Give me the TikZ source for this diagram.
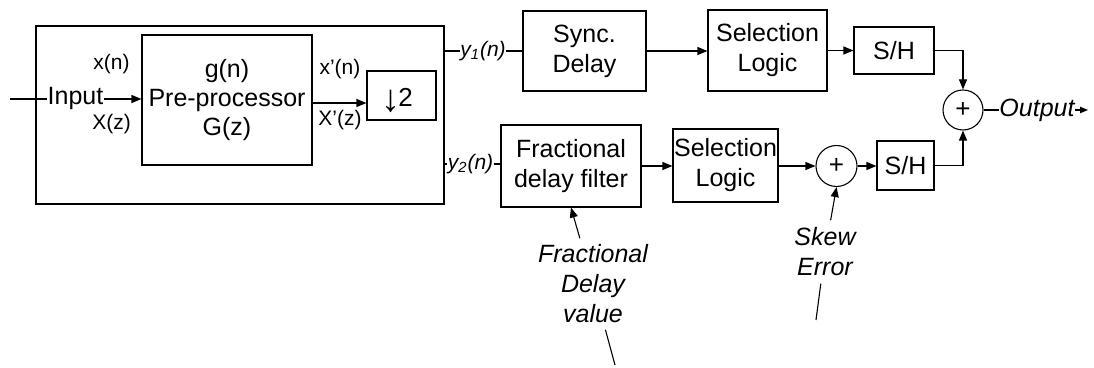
\documentclass[tikz,border=0pt]{standalone}
\usepackage{fontspec}
\setmainfont{Liberation Sans}
\usetikzlibrary{arrows.meta}

\begin{document}
\begin{tikzpicture}[x=0.5pt,y=-0.5pt,line width=0.55pt,
  block/.style={draw,rectangle,inner sep=0pt,align=center,
    font=\fontsize{12.5}{15}\selectfont},
  sumnode/.style={draw,circle,inner sep=0pt,minimum size=20pt,
    font=\fontsize{13}{14}\selectfont},
  lbl/.style={inner sep=0pt,font=\fontsize{10.5}{12}\selectfont},
  sig/.style={inner sep=0pt,font=\itshape\fontsize{10.5}{12}\selectfont},
  note/.style={inner sep=3pt,align=center,font=\itshape\fontsize{12.5}{15}\selectfont},
  arr/.style={-{Triangle[length=5pt,width=4pt]}},
  smallarr/.style={-{Triangle[length=4pt,width=3.2pt]}},
]
\useasboundingbox (0,0) rectangle (1094,368);

% pre-processing stage
\node[block,minimum width=204pt,minimum height=89pt] (outer) at (240,115) {};
\node[block,minimum width=85pt,minimum height=65pt,
  font=\fontsize{12.5}{14.4}\selectfont] (pre) at (227,100) {g(n)\\Pre-processor\\G(z)};
\node[block,minimum width=34.5pt,minimum height=24.5pt] (ds) at (401.5,95.5) {};
\node[lbl,font=\fontsize{13}{15}\selectfont] (dstext) at (397,100)
  {\raisebox{-2.5pt}{\fontsize{19}{19}\selectfont ↓}\kern-1pt 2};

\coordinate (src) at (10,99);
\node[inner sep=0pt,font=\fontsize{12.5}{15}\selectfont] (in) at (75.5,99) {Input};
\draw (src) -- (in.west);
\draw[arr] (in.east) -- (pre.west |- in.east);

\node[lbl] (xn) at (111.5,64) {x(n)};
\node[lbl] (Xz) at (111.5,124) {X(z)};
\node[lbl] (xpn) at (340,69) {x’(n)};
\node[lbl] (Xpz) at (340,120) {X’(z)};

\coordinate (pe) at ([yshift=-1.5pt]pre.east);
\draw[arr] (pe) -- (pe -| ds.west);

% upper branch
\node[block,minimum width=61.5pt,minimum height=40pt] (sync) at (584.5,51) {Sync.\\Delay};
\node[block,minimum width=59.5pt,minimum height=40.5pt] (sel1) at (767.5,50.5) {Selection\\Logic};
\node[block,minimum width=40pt,minimum height=23.5pt] (sh1) at (894,50.5) {S/H};
\node[sumnode] (sum1) at (963,110) {+};

\node[sig] (y1) at (483,51) {y\textsubscript{1}(n)};
\draw (outer.east |- y1) -- (y1.west);
\draw (y1.east) -- (sync.west |- y1);
\draw[arr] (sync.east) -- (sel1.west |- sync.east);
\draw[arr] (sel1.east) -- (sh1.west |- sel1.east);
\draw[arr] (sh1.east) -| (sum1.north);

% lower branch
\node[block,minimum width=70pt,minimum height=41pt] (fdf) at (571,166) {Fractional\\delay filter};
\node[block,minimum width=52.5pt,minimum height=36.5pt] (sel2) at (725.5,165.5) {Selection\\Logic};
\node[sumnode,minimum size=20.5pt] (sum2) at (836.5,166) {+};
\node[block,minimum width=28.5pt,minimum height=24.5pt] (sh2) at (905.5,165.5) {S/H};

\node[sig] (y2) at (470.5,164) {y\textsubscript{2}(n)};
\draw (outer.east |- y2) -- (y2.west);
\draw (y2.east) -- (fdf.west |- y2);
\draw[arr] (fdf.east) -- (sel2.west |- fdf.east);
\draw[arr] (sel2.east |- sum2.west) -- (sum2.west);
\draw[arr] (sum2.east) -- (sh2.west |- sum2.east);
\draw[arr] (sh2.east) -| (sum1.south);

% output
\node[inner sep=0pt,font=\itshape\fontsize{12.5}{15}\selectfont] (out) at (1037,110) {Output};
\coordinate (outend) at (1088,110);
\draw (sum1.east) -- (out.west);
\draw[smallarr] (out.east) -- (outend);

% control inputs
\node[note] (fdv) at (593,284) {Fractional\\Delay\\value};
\coordinate (fdvtail) at (615,365);
\draw (fdvtail) -- (fdv);
\draw[arr] (fdv) -- (fdf.south);

\node[note,inner sep=3.5pt] (skew) at (825,252) {Skew\\Error};
\coordinate (skewtail) at (816,320);
\draw (skewtail) -- (skew);
\draw[arr] (skew) -- (sum2.south);
\end{tikzpicture}
\end{document}
